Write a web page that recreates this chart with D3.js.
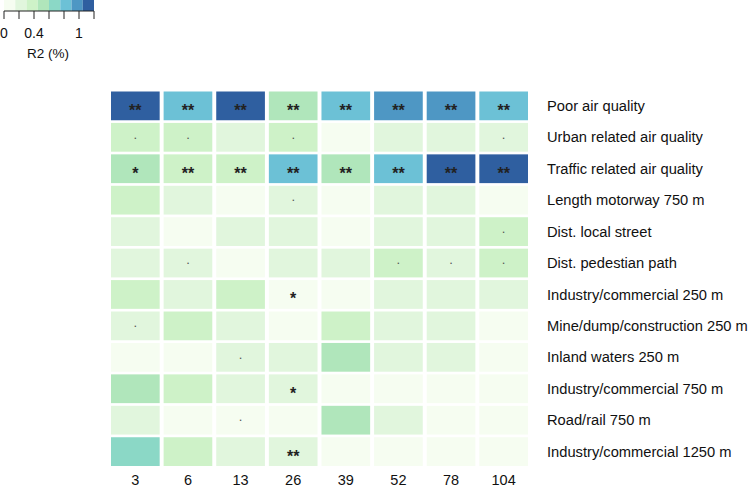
<!DOCTYPE html>
<html>
<head>
<meta charset="utf-8">
<script src="https://cdn.jsdelivr.net/npm/d3@7"></script>
<style>
  body { margin: 0; background: #fff; }
  text { font-family: "Liberation Sans", Arial, sans-serif; fill: #111; }
</style>
</head>
<body>
<svg id="chart" width="750" height="489"></svg>
<script>
// buffer sizes (m) on the x axis
var buffers = ["3", "6", "13", "26", "39", "52", "78", "104"];

var predictors = [
  "Poor air quality",
  "Urban related air quality",
  "Traffic related air quality",
  "Length motorway 750 m",
  "Dist. local street",
  "Dist. pedestian path",
  "Industry/commercial 250 m",
  "Mine/dump/construction 250 m",
  "Inland waters 250 m",
  "Industry/commercial 750 m",
  "Road/rail 750 m",
  "Industry/commercial 1250 m"
];

// R2 (%) per predictor, one value per buffer
var r2 = [
  [1.12, 0.82, 1.12, 0.52, 0.82, 0.97, 0.97, 0.82],
  [0.36, 0.36, 0.20, 0.36, 0.05, 0.20, 0.20, 0.20],
  [0.52, 0.36, 0.36, 0.82, 0.52, 0.82, 1.12, 1.12],
  [0.36, 0.20, 0.05, 0.20, 0.05, 0.20, 0.20, 0.05],
  [0.20, 0.05, 0.20, 0.20, 0.05, 0.20, 0.20, 0.36],
  [0.20, 0.20, 0.05, 0.20, 0.20, 0.36, 0.20, 0.36],
  [0.36, 0.20, 0.36, 0.05, 0.05, 0.20, 0.20, 0.20],
  [0.20, 0.36, 0.20, 0.05, 0.36, 0.20, 0.20, 0.05],
  [0.05, 0.05, 0.20, 0.20, 0.52, 0.20, 0.20, 0.05],
  [0.52, 0.36, 0.20, 0.20, 0.05, 0.05, 0.05, 0.05],
  [0.20, 0.05, 0.05, 0.05, 0.52, 0.20, 0.05, 0.05],
  [0.68, 0.36, 0.20, 0.20, 0.05, 0.05, 0.05, 0.05]
];

// significance marks
var signif = [
  ["**", "**", "**", "**", "**", "**", "**", "**"],
  [".", ".", "", ".", "", "", "", "."],
  ["*", "**", "**", "**", "**", "**", "**", "**"],
  ["", "", "", ".", "", "", "", ""],
  ["", "", "", "", "", "", "", "."],
  ["", ".", "", "", "", ".", ".", "."],
  ["", "", "", "*", "", "", "", ""],
  [".", "", "", "", "", "", "", ""],
  ["", "", ".", "", "", "", "", ""],
  ["", "", "", "*", "", "", "", ""],
  ["", "", ".", "", "", "", "", ""],
  ["", "", "", "**", "", "", "", ""]
];

var legendTicks = [0, 0.2, 0.4, 0.6, 0.8, 1.0, 1.2];
var legendLabels = {0: "0", 0.4: "0.4", 1: "1"};

var palette = ["#f6fdf1", "#e1f6dd", "#cef2c8", "#b0e6bb", "#8bd8c6", "#6cc1d6", "#4e97c4", "#2f5fa0"];

var svg = d3.select("#chart");

var color = d3.scaleQuantize().domain([0, 1.2]).range(palette);

var x = d3.scaleBand().domain(buffers).range([111, 528]).paddingInner(0.075);
var y = d3.scaleBand().domain(predictors).range([91.5, 466]).paddingInner(0.085);

var cells = [];
predictors.forEach(function (p, i) {
  buffers.forEach(function (b, j) {
    cells.push({ row: p, col: b, value: r2[i][j], sig: signif[i][j] });
  });
});

svg.append("g").selectAll("rect")
  .data(cells)
  .enter().append("rect")
  .attr("x", function (d) { return x(d.col); })
  .attr("y", function (d) { return y(d.row); })
  .attr("width", x.bandwidth())
  .attr("height", y.bandwidth())
  .attr("fill", function (d) { return color(d.value); });

svg.append("g").selectAll("text")
  .data(cells.filter(function (d) { return d.sig !== ""; }))
  .enter().append("text")
  .attr("x", function (d) { return x(d.col) + x.bandwidth() / 2; })
  .attr("y", function (d) { return y(d.row) + y.bandwidth() / 2; })
  .attr("text-anchor", "middle")
  .attr("dy", function (d) { return d.sig === "." ? "0.1em" : "0.62em"; })
  .style("font-size", function (d) { return d.sig === "." ? "13px" : "16px"; })
  .style("font-weight", function (d) { return d.sig === "." ? "normal" : "bold"; })
  .style("fill", function (d) { return d.sig === "." ? "#555" : "#222"; })
  .text(function (d) { return d.sig; });

// row labels
svg.append("g").selectAll("text")
  .data(predictors)
  .enter().append("text")
  .attr("x", 547)
  .attr("y", function (d) { return y(d) + y.bandwidth() / 2; })
  .attr("dy", "0.35em")
  .style("font-size", "14.7px")
  .text(function (d) { return d; });

// column labels
svg.append("g").selectAll("text")
  .data(buffers)
  .enter().append("text")
  .attr("x", function (d) { return x(d) + x.bandwidth() / 2; })
  .attr("y", 485)
  .attr("text-anchor", "middle")
  .style("font-size", "14.5px")
  .text(function (d) { return d; });

// legend
var lx = d3.scaleLinear().domain([0, 1.2]).range([4, 94]);
var lg = svg.append("g");
lg.selectAll("rect")
  .data(palette)
  .enter().append("rect")
  .attr("x", function (d, i) { return lx(i * 0.15); })
  .attr("y", 0)
  .attr("width", lx(0.15) - lx(0))
  .attr("height", 11)
  .attr("fill", function (d) { return d; });

lg.append("line")
  .attr("x1", lx(0)).attr("x2", lx(1.2))
  .attr("y1", 11).attr("y2", 11)
  .attr("stroke", "#222").attr("stroke-width", 1);

lg.selectAll(".tick")
  .data(legendTicks)
  .enter().append("line")
  .attr("class", "tick")
  .attr("x1", function (d) { return lx(d); }).attr("x2", function (d) { return lx(d); })
  .attr("y1", 11).attr("y2", 19)
  .attr("stroke", "#222").attr("stroke-width", 1);

lg.selectAll(".lab")
  .data(legendTicks.filter(function (d) { return legendLabels[d] !== undefined; }))
  .enter().append("text")
  .attr("class", "lab")
  .attr("x", function (d) { return lx(d); })
  .attr("y", 38)
  .attr("text-anchor", "middle")
  .style("font-size", "14px")
  .text(function (d) { return legendLabels[d]; });

lg.append("text")
  .attr("x", 48)
  .attr("y", 58)
  .attr("text-anchor", "middle")
  .style("font-size", "13.5px")
  .text("R2 (%)");
</script>
</body>
</html>
